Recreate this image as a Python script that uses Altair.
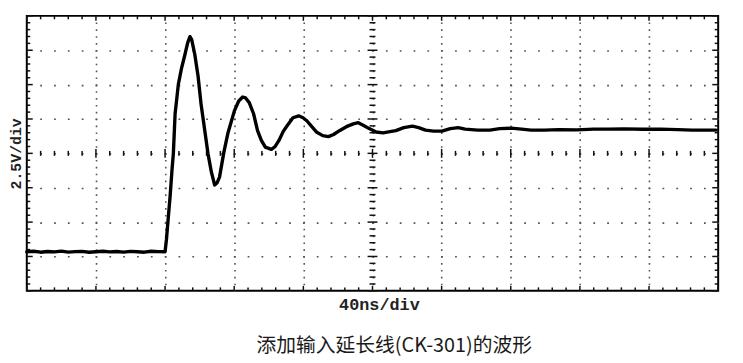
import altair as alt
import pandas as pd

# ---- waveform samples (time in ns, amplitude in V) ----
time_ns = [0, 4, 8, 12, 16, 20, 24, 28, 32, 36, 40, 44, 48, 52, 56, 60, 64, 68, 72, 76, 80,
           80.8, 82.0, 82.9, 84.0, 84.8, 85.8, 87.7, 89.4, 91.5, 93.1, 94.4, 95.4, 97.2, 99.1,
           100.8, 102.8, 104.8, 106.8, 108.7, 110.0, 111.5, 114.0, 116.3, 120.1, 122.6, 124.9,
           126.6, 128.7, 131.2, 133.5, 135.7, 138.0, 141.5, 143.7, 145.9, 148.3, 150.6, 154.0,
           157.3, 159.8, 162.0, 164.9, 167.8, 171.2, 174.5, 177.5, 180.9, 184.9, 188.9, 191.8,
           194.6, 198.1, 202.1, 206.1, 210.1, 213.5, 218.1, 223.1, 226.7, 230.7, 235.3, 240.2,
           245.0, 249.6, 253.6, 261.0, 267.9, 273.6, 280.3, 286.2, 291.7, 299.3, 307.9, 318.2,
           327.9, 336.5, 345.1, 356.5, 366.8, 376.5, 385.1, 394.6, 398.8]
volts = [-7.16, -7.12, -7.19, -7.14, -7.17, -7.11, -7.18, -7.15, -7.13, -7.19, -7.16, -7.12,
         -7.17, -7.14, -7.18, -7.13, -7.16, -7.19, -7.12, -7.15, -7.16,
         -6.26, -4.46, -3.14, -1.22, 0.0, 2.88, 5.04, 6.12, 7.19, 8.06, 8.49, 8.27, 7.19, 5.61,
         3.60, 1.80, 0.0, -1.37, -2.30, -2.16, -1.73, 0.07, 1.44, 3.09, 3.81, 4.10,
         4.03, 3.69, 2.88, 1.65, 0.94, 0.45, 0.29, 0.50, 0.94, 1.58, 2.01, 2.59,
         2.73, 2.59, 2.37, 1.94, 1.53, 1.29, 1.22, 1.37, 1.65, 1.94, 2.14, 2.23,
         2.05, 1.80, 1.55, 1.49, 1.58, 1.65, 1.87, 1.98, 1.87, 1.69, 1.62, 1.62,
         1.80, 1.87, 1.76, 1.69, 1.69, 1.80, 1.83, 1.76, 1.69, 1.69, 1.73, 1.71,
         1.76, 1.76, 1.78, 1.75, 1.76, 1.73, 1.69, 1.69, 1.69]

x_title = "40ns/div"
y_title = "2.5V/div"
caption = "添加输入延长线(CK-301)的波形"

# ---- screen geometry (10 x 8 divisions) ----
W, H = 699, 278
T_MAX, V_MIN, V_MAX = 400, -10, 10
ns_per_px = T_MAX / W
v_per_px = (V_MAX - V_MIN) / H

wave_df = pd.DataFrame({"t": time_ns, "v": volts})

# graticule tick marks (edges and centre cross-hair), one per minor division
segs = []
for i in range(51):
    t = i * 8
    major = i % 5 == 0
    L = 5 if major else 3.5
    segs.append((t, t, V_MIN, V_MIN + L * v_per_px))
    segs.append((t, t, V_MAX - L * v_per_px, V_MAX))
    Lc = 9 if major else 5
    segs.append((t, t, -Lc / 2 * v_per_px, Lc / 2 * v_per_px))
for j in range(41):
    v = V_MIN + j * 0.5
    major = j % 5 == 0
    L = 6 if major else 3.5
    segs.append((0, L * ns_per_px, v, v))
    segs.append((T_MAX - L * ns_per_px, T_MAX, v, v))
    Lc = 10 if major else 6
    segs.append((200 - Lc / 2 * ns_per_px, 200 + Lc / 2 * ns_per_px, v, v))
tick_df = pd.DataFrame(segs, columns=["x", "x2", "y", "y2"])

xs = alt.Scale(domain=[0, T_MAX], nice=False, zero=False)
ys = alt.Scale(domain=[V_MIN, V_MAX], nice=False, zero=False)

x_axis = alt.Axis(
    values=[40 * k for k in range(1, 10)], grid=True,
    gridDash=[1.6, H / 40 - 1.6], gridDashOffset=0.8, gridColor="#555", gridWidth=1.6,
    labels=False, ticks=False, domain=False,
    title=x_title, titleFont="Liberation Mono", titleFontWeight="bold", titleFontSize=17,
    titleColor="#222", titleX=356, titleY=14, titleBaseline="middle", titleAlign="center",
)
y_axis = alt.Axis(
    values=[-7.5, -5, -2.5, 0, 2.5, 5, 7.5], grid=True,
    gridDash=[1.8, W / 50 - 1.8], gridDashOffset=0.9, gridColor="#555", gridWidth=1.6,
    labels=False, ticks=False, domain=False,
    title=y_title, titleFont="Liberation Mono", titleFontWeight="bold", titleFontSize=15,
    titleColor="#222", titleX=-11, titleY=139, titleAngle=270, titleBaseline="middle",
    titleAlign="center",
)

ticks = alt.Chart(tick_df).mark_rule(color="#111", strokeWidth=1.5).encode(
    x=alt.X("x:Q", scale=xs, axis=x_axis),
    x2="x2:Q",
    y=alt.Y("y:Q", scale=ys, axis=y_axis),
    y2="y2:Q",
)

wave = alt.Chart(wave_df).mark_line(color="black", strokeWidth=3.4,
                                     strokeJoin="round", strokeCap="round").encode(
    x=alt.X("t:Q", scale=xs, axis=x_axis),
    y=alt.Y("v:Q", scale=ys, axis=y_axis),
)

chart = alt.layer(ticks, wave).properties(
    width=W, height=H,
    background="white",
    autosize=alt.AutoSizeParams(type="none"),
    padding={"left": 19, "top": 6, "right": 17, "bottom": 71},
    title=alt.TitleParams(text=caption, orient="bottom", anchor="middle",
                          font="Noto Sans CJK SC", fontSize=20, fontWeight="normal",
                          color="#1a1a1a", offset=24, dx=22),
).configure_view(stroke="black", strokeWidth=2)

chart.save("out.html", embed_options={"renderer": "svg", "actions": False})
